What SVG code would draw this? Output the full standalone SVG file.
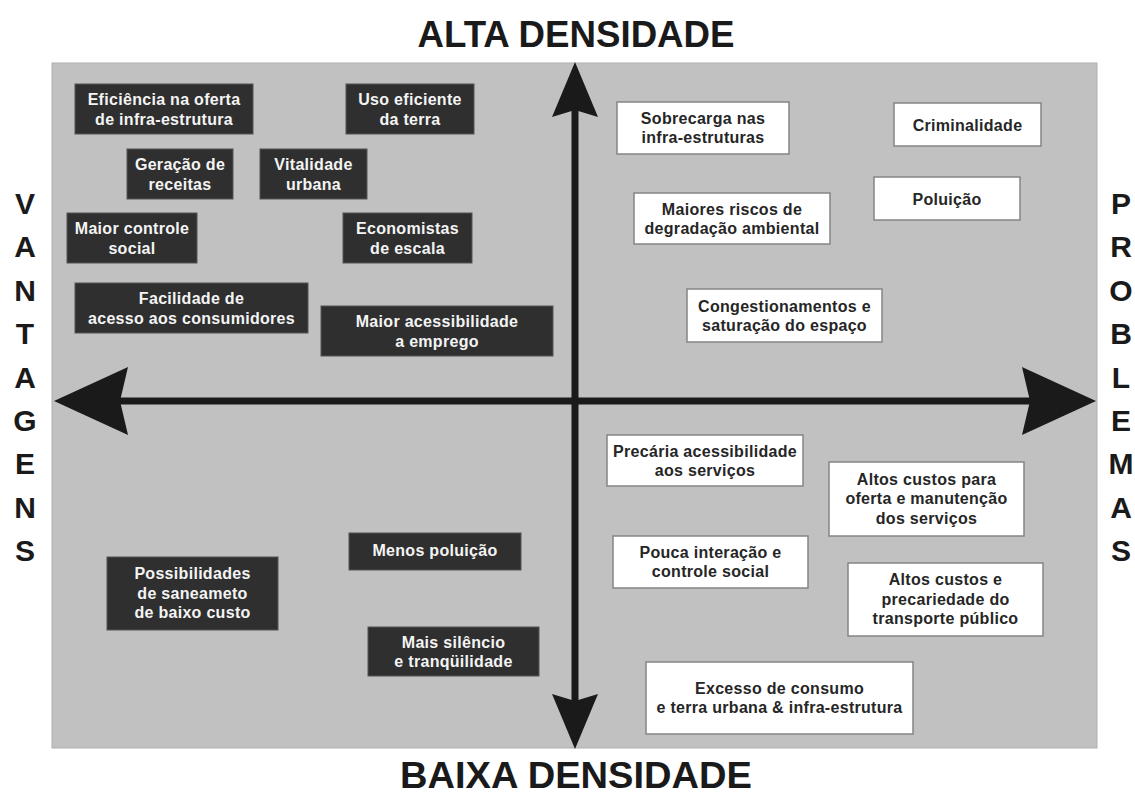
<svg xmlns="http://www.w3.org/2000/svg" width="1135" height="794" viewBox="0 0 1135 794">
<style>
.title{font-family:"Liberation Sans",Arial,sans-serif;font-weight:bold;font-size:36px;fill:#1a1a1a;text-anchor:middle}
.side{font-family:"Liberation Sans",Arial,sans-serif;font-weight:bold;font-size:30px;fill:#1a1a1a;text-anchor:middle}
.dk rect{fill:#2f2f2f;stroke:#555;stroke-width:1}
.dk text{font-family:"Liberation Sans",Arial,sans-serif;font-weight:bold;font-size:16px;fill:#f4f4f4;text-anchor:middle;letter-spacing:0.3px}
.wt rect{fill:#ffffff;stroke:#858585;stroke-width:1.5}
.wt text{font-family:"Liberation Sans",Arial,sans-serif;font-weight:bold;font-size:16px;fill:#262626;text-anchor:middle;letter-spacing:0.3px}
.axis{stroke:#1a1a1a;stroke-width:7;fill:none}
.head{fill:#1a1a1a}
</style>
<rect x="0" y="0" width="1135" height="794" fill="#ffffff"/>
<rect id="panel" x="52" y="63" width="1045" height="685" fill="#c1c1c1" stroke="#b0b0b0" stroke-width="1"/>

<text class="title" x="576" y="47" textLength="317" lengthAdjust="spacingAndGlyphs">ALTA DENSIDADE</text>
<text class="title" x="576" y="788" textLength="352" lengthAdjust="spacingAndGlyphs">BAIXA DENSIDADE</text>

<g id="vantagens" class="side">
<text x="25" y="214">V</text>
<text x="25" y="257">A</text>
<text x="25" y="301">N</text>
<text x="25" y="344">T</text>
<text x="25" y="388">A</text>
<text x="25" y="431">G</text>
<text x="25" y="474">E</text>
<text x="25" y="518">N</text>
<text x="25" y="561">S</text>
</g>
<g id="problemas" class="side">
<text x="1121" y="214">P</text>
<text x="1121" y="257">R</text>
<text x="1121" y="301">O</text>
<text x="1121" y="344">B</text>
<text x="1121" y="388">L</text>
<text x="1121" y="431">E</text>
<text x="1121" y="474">M</text>
<text x="1121" y="518">A</text>
<text x="1121" y="561">S</text>
</g>

<g id="connectors">
<line class="axis" x1="118" y1="401" x2="1032" y2="401"/>
<line class="axis" x1="575" y1="108" x2="575" y2="703"/>
<path class="head" d="M54,401 L128,367 L120,401 L128,435 Z"/>
<path class="head" d="M1096,401 L1022,367 L1030,401 L1022,435 Z"/>
<path class="head" d="M575,62 L552,117 L575,110 L598,117 Z"/>
<path class="head" d="M575,749 L552,694 L575,701 L598,694 Z"/>
</g>

<g id="n-eficiencia" class="dk"><rect x="75" y="84" width="178" height="50"/><text x="164" y="105.25">Eficiência na oferta</text><text x="164" y="124.75">de infra-estrutura</text></g>
<g id="n-uso" class="dk"><rect x="346" y="84" width="128" height="50"/><text x="410" y="105.25">Uso eficiente</text><text x="410" y="124.75">da terra</text></g>
<g id="n-geracao" class="dk"><rect x="127" y="149" width="106" height="50"/><text x="180" y="170.25">Geração de</text><text x="180" y="189.75">receitas</text></g>
<g id="n-vitalidade" class="dk"><rect x="260" y="149" width="107" height="50"/><text x="313.5" y="170.25">Vitalidade</text><text x="313.5" y="189.75">urbana</text></g>
<g id="n-controle" class="dk"><rect x="67" y="213" width="130" height="50"/><text x="132" y="234.25">Maior controle</text><text x="132" y="253.75">social</text></g>
<g id="n-economistas" class="dk"><rect x="343" y="213" width="129" height="50"/><text x="407.5" y="234.25">Economistas</text><text x="407.5" y="253.75">de escala</text></g>
<g id="n-facilidade" class="dk"><rect x="75" y="283" width="233" height="50"/><text x="191.5" y="304.25">Facilidade de</text><text x="191.5" y="323.75">acesso aos consumidores</text></g>
<g id="n-acessibilidade" class="dk"><rect x="321" y="306" width="232" height="50"/><text x="437" y="327.25">Maior acessibilidade</text><text x="437" y="346.75">a emprego</text></g>
<g id="n-possibilidades" class="dk"><rect x="107" y="557" width="171" height="73"/><text x="192.5" y="579">Possibilidades</text><text x="192.5" y="598.5">de saneameto</text><text x="192.5" y="618">de baixo custo</text></g>
<g id="n-menos" class="dk"><rect x="349" y="533" width="172" height="37"/><text x="435" y="556">Menos poluição</text></g>
<g id="n-silencio" class="dk"><rect x="368" y="627" width="171" height="49"/><text x="453.5" y="647.5">Mais silêncio</text><text x="453.5" y="667">e tranqüilidade</text></g>

<g id="n-sobrecarga" class="wt"><rect x="617" y="102" width="172" height="52"/><text x="703" y="123.5">Sobrecarga nas</text><text x="703" y="143">infra-estruturas</text></g>
<g id="n-criminalidade" class="wt"><rect x="894" y="103" width="147" height="43"/><text x="967.5" y="130.5">Criminalidade</text></g>
<g id="n-maiores" class="wt"><rect x="634" y="193" width="196" height="51"/><text x="732" y="214.5">Maiores riscos de</text><text x="732" y="234">degradação ambiental</text></g>
<g id="n-poluicao" class="wt"><rect x="874" y="177" width="146" height="43"/><text x="947" y="204.5">Poluição</text></g>
<g id="n-congestionamentos" class="wt"><rect x="687" y="289" width="195" height="53"/><text x="784.5" y="311.5">Congestionamentos e</text><text x="784.5" y="331">saturação do espaço</text></g>
<g id="n-precaria" class="wt"><rect x="607" y="435" width="196" height="51"/><text x="705" y="456.5">Precária acessibilidade</text><text x="705" y="476">aos serviços</text></g>
<g id="n-altos1" class="wt"><rect x="829" y="462" width="195" height="74"/><text x="926.5" y="484.5">Altos custos para</text><text x="926.5" y="504">oferta e manutenção</text><text x="926.5" y="523.5">dos serviços</text></g>
<g id="n-pouca" class="wt"><rect x="613" y="536" width="195" height="52"/><text x="710.5" y="557.5">Pouca interação e</text><text x="710.5" y="577">controle social</text></g>
<g id="n-altos2" class="wt"><rect x="848" y="563" width="195" height="73"/><text x="945.5" y="585">Altos custos e</text><text x="945.5" y="604.5">precariedade do</text><text x="945.5" y="624">transporte público</text></g>
<g id="n-excesso" class="wt"><rect x="646" y="662" width="267" height="72"/><text x="779.5" y="693.5">Excesso de consumo</text><text x="779.5" y="713">e terra urbana &amp; infra-estrutura</text></g>
</svg>
